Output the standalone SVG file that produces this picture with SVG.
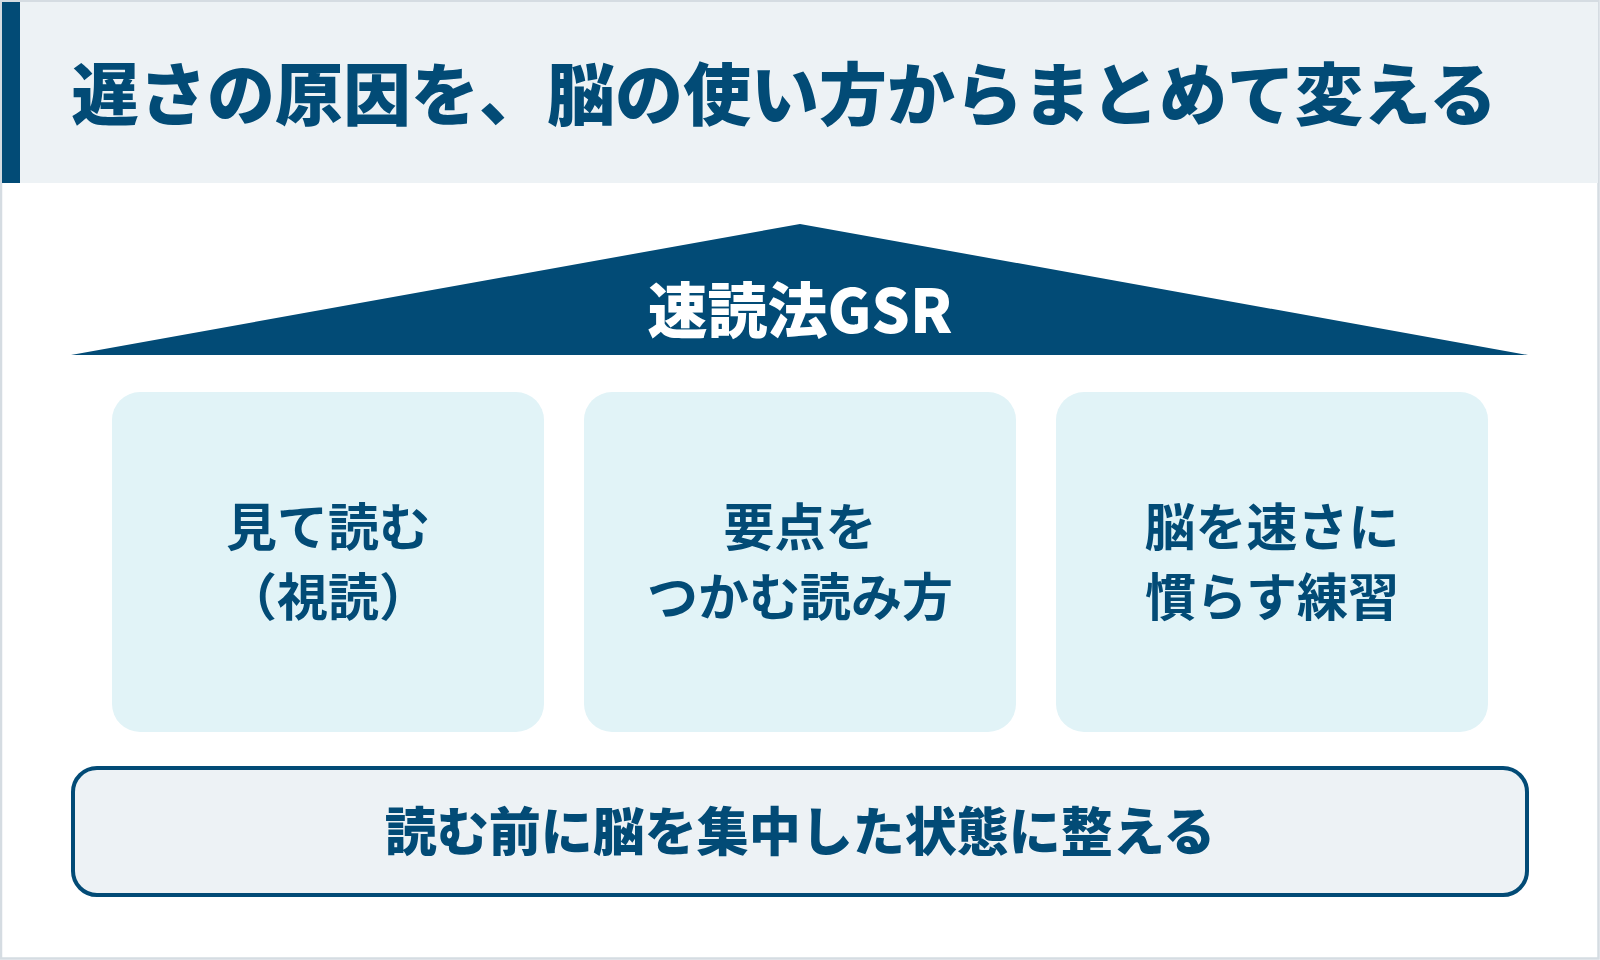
<svg xmlns="http://www.w3.org/2000/svg" width="1600" height="960" viewBox="0 0 1600 960">
  <style>
    .jp { font-family: "Noto Sans CJK JP", "Noto Sans", sans-serif; }
    .title { font-size: 68px; font-weight: 900; fill: #024B76; }
    .roof-label { font-size: 60px; font-weight: 900; fill: #FFFFFF; }
    .pillar { fill: #E1F3F7; }
    .pillar-text { font-size: 51px; font-weight: 700; fill: #024B76; }
    .base { fill: #EDF2F5; stroke: #024B76; stroke-width: 4; }
    .base-text { font-size: 52px; font-weight: 900; fill: #024B76; }
  </style>
  <rect x="0" y="0" width="1600" height="960" fill="#FFFFFF"/>
  <rect x="1" y="1" width="1597.5" height="957.5" fill="none" stroke="#D5DCE2" stroke-width="2.5"/>

  <g id="header">
    <rect x="2" y="2" width="1596" height="181" fill="#EDF2F5"/>
    <rect x="2" y="2" width="18" height="181" fill="#024B76"/>
    <text class="jp title" x="71" y="120">遅さの原因を、脳の使い方からまとめて変える</text>
  </g>

  <g id="roof">
    <polygon points="71,355 800,224 1528,355" fill="#024B76"/>
    <text class="jp roof-label" x="800" y="333" text-anchor="middle">速読法GSR</text>
  </g>

  <g id="pillar-1">
    <rect class="pillar" x="112" y="392" width="432" height="340" rx="28"/>
    <text class="jp pillar-text" x="328" y="546" text-anchor="middle">見て読む</text>
    <text class="jp pillar-text" x="328" y="616" text-anchor="middle">（視読）</text>
  </g>

  <g id="pillar-2">
    <rect class="pillar" x="584" y="392" width="432" height="340" rx="28"/>
    <text class="jp pillar-text" x="800" y="546" text-anchor="middle">要点を</text>
    <text class="jp pillar-text" x="800" y="616" text-anchor="middle">つかむ読み方</text>
  </g>

  <g id="pillar-3">
    <rect class="pillar" x="1056" y="392" width="432" height="340" rx="28"/>
    <text class="jp pillar-text" x="1272" y="546" text-anchor="middle">脳を速さに</text>
    <text class="jp pillar-text" x="1272" y="616" text-anchor="middle">慣らす練習</text>
  </g>

  <g id="foundation">
    <rect class="base" x="73" y="768" width="1454" height="127" rx="24"/>
    <text class="jp base-text" x="800" y="851" text-anchor="middle">読む前に脳を集中した状態に整える</text>
  </g>

  <g id="connectors"></g>
</svg>
